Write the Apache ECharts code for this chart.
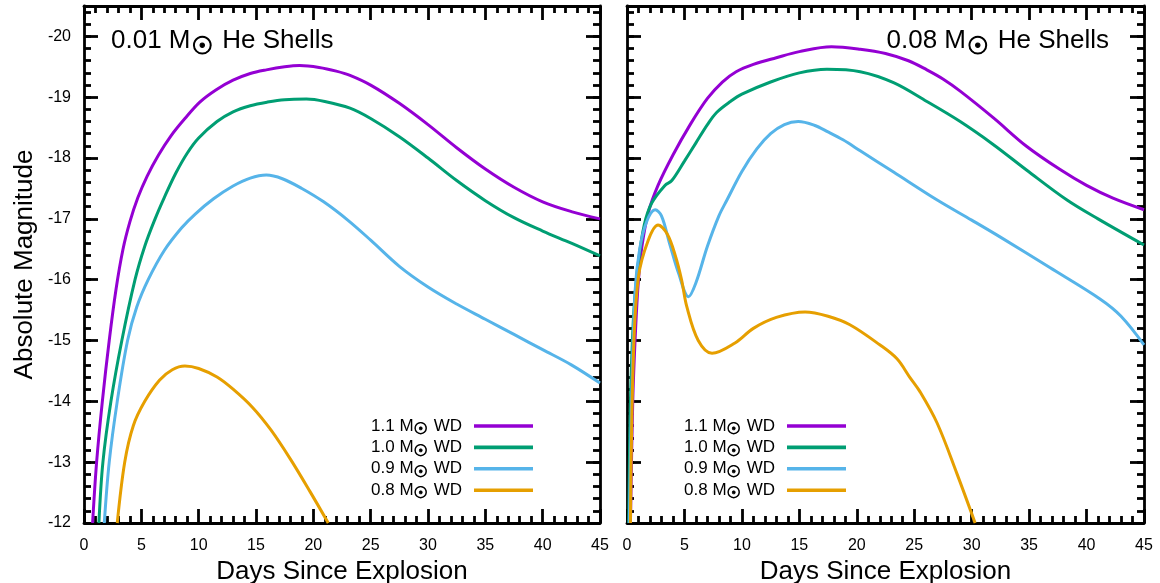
<!DOCTYPE html>
<html>
<head>
<meta charset="utf-8">
<script src="https://cdn.jsdelivr.net/npm/echarts@6/dist/echarts.min.js"></script>
<style>
html,body{margin:0;padding:0;background:#fff;}
#c{width:1160px;height:583px;}
</style>
</head>
<body>
<div id="c"></div>
<script>
// ---------- data: [day, absolute magnitude] ----------
var seriesNames = ['1.1 M\u2609 WD', '1.0 M\u2609 WD', '0.9 M\u2609 WD', '0.8 M\u2609 WD'];
var seriesColors = ['#9400D3', '#009E73', '#56B4E9', '#E69F00'];
var panelTitles = ['0.01 M', '0.08 M'];
var xTickLabels = [0, 5, 10, 15, 20, 25, 30, 35, 40, 45];

// 0.01 Msun He shells
var thin11 = [[0.75,-12],[1.1,-13],[1.6,-14],[2.2,-15],[2.8,-15.85],[3.4,-16.5],[4.0,-16.95],[4.7,-17.35],[5.5,-17.7],[6.5,-18.05],[7.6,-18.37],[8.8,-18.65],[10.1,-18.92],[11.5,-19.12],[13,-19.28],[14.5,-19.39],[15.9,-19.45],[17.5,-19.5],[18.8,-19.52],[20.5,-19.49],[22,-19.43],[23.2,-19.36],[25,-19.2],[27.5,-18.9],[30,-18.55],[32.5,-18.17],[35,-17.82],[37.5,-17.52],[40,-17.28],[42.5,-17.12],[45,-17.0]];
var thin10 = [[1.3,-12],[1.65,-13],[2.35,-14],[3.3,-15],[4.45,-16],[5.3,-16.55],[6.2,-17.0],[7.0,-17.35],[8.0,-17.75],[9.0,-18.08],[10,-18.33],[11.6,-18.6],[13,-18.76],[14.5,-18.86],[16,-18.92],[17.5,-18.96],[19.4,-18.97],[21,-18.93],[23.2,-18.82],[25,-18.65],[27.5,-18.35],[30,-18.0],[32.5,-17.63],[35,-17.3],[37.5,-17.02],[40,-16.8],[42.5,-16.6],[45,-16.39]];
var thin09 = [[1.77,-12],[2.2,-13],[2.9,-14],[3.8,-15],[4.6,-15.55],[5.6,-16],[7,-16.48],[8.5,-16.85],[9.7,-17.08],[11.3,-17.33],[13,-17.54],[14.5,-17.67],[15.9,-17.72],[17.3,-17.66],[19,-17.5],[20.9,-17.28],[23,-16.98],[25,-16.65],[27.5,-16.22],[30,-15.88],[32.5,-15.6],[35,-15.35],[37.5,-15.1],[40,-14.85],[42.5,-14.6],[45,-14.3]];
var thin08 = [[2.9,-12],[3.55,-13],[4.3,-13.6],[5.3,-14.0],[6.6,-14.35],[7.7,-14.52],[8.8,-14.58],[10,-14.54],[11.6,-14.4],[13,-14.2],[14.7,-13.9],[16.3,-13.53],[18,-13.05],[19.7,-12.52],[21.3,-12.0]];

// 0.08 Msun He shells
var thick11 = [[0.3,-12],[0.5,-14],[0.75,-15.2],[1.0,-16.0],[1.3,-16.55],[1.85,-17.1],[2.7,-17.55],[4,-18.05],[5.5,-18.55],[7,-18.98],[8.3,-19.25],[9.5,-19.42],[11,-19.54],[13,-19.65],[15,-19.75],[17.8,-19.83],[20.3,-19.79],[22.5,-19.72],[24.5,-19.6],[26.1,-19.45],[27.5,-19.3],[29,-19.1],[31.9,-18.66],[34.8,-18.19],[37.7,-17.81],[40,-17.55],[42.3,-17.34],[45,-17.15]];
var thick10 = [[0.15,-12],[0.3,-14],[0.6,-15.5],[1.0,-16.3],[1.5,-16.9],[2.15,-17.26],[3.3,-17.55],[3.9,-17.63],[5,-17.95],[6,-18.25],[7,-18.55],[7.8,-18.75],[9,-18.93],[10,-19.05],[12.5,-19.25],[15,-19.4],[17.4,-19.46],[20.3,-19.42],[23.2,-19.24],[26.1,-18.93],[29,-18.6],[31.9,-18.22],[34.8,-17.8],[38.3,-17.31],[41,-17.0],[45,-16.57]];
var thick09 = [[0.2,-12],[0.4,-14],[0.7,-15.8],[1.1,-16.5],[1.7,-16.95],[2.45,-17.15],[3.0,-17.05],[3.7,-16.6],[4.5,-16.1],[5.35,-15.72],[6,-15.95],[7,-16.55],[8,-17.05],[8.7,-17.31],[10,-17.78],[11.3,-18.15],[12.5,-18.4],[13.7,-18.55],[14.9,-18.6],[16.3,-18.54],[17.5,-18.43],[18.8,-18.3],[20.3,-18.12],[23.2,-17.77],[27,-17.31],[30,-16.98],[32.5,-16.7],[36.8,-16.2],[41.2,-15.68],[43,-15.4],[45,-14.93]];
var thick08 = [[0.3,-12],[0.55,-14.7],[1.0,-16.05],[1.85,-16.65],[2.7,-16.9],[3.5,-16.75],[4.2,-16.4],[4.75,-16.0],[5.2,-15.56],[6.2,-15.0],[7.4,-14.79],[9.4,-14.96],[11,-15.2],[13,-15.38],[15.5,-15.47],[17.5,-15.4],[19.4,-15.26],[22,-14.93],[23.5,-14.7],[24.6,-14.4],[25.5,-14.16],[27,-13.64],[28.7,-12.82],[30.3,-12.0]];

var panelData = [[thin11, thin10, thin09, thin08], [thick11, thick10, thick09, thick08]];

// ---------- chart ----------
var FONT = 'Liberation Sans, Arial, Helvetica, sans-serif';
var SUN = 'DejaVu Sans';
var grids = [
  {left: 84, top: 6, width: 516, height: 517, outerBoundsMode: 'none', containLabel: false},
  {left: 627, top: 6, width: 517, height: 517, outerBoundsMode: 'none', containLabel: false}
];
var xAxes = [], yAxes = [], series = [];
var lineW = 2.8;

grids.forEach(function (g, gi) {
  xAxes.push({
    type: 'value', gridIndex: gi, position: 'bottom', min: 0, max: 45, interval: 5,
    name: 'Days Since Explosion', nameLocation: 'middle', nameGap: 33,
    nameTextStyle: {fontFamily: FONT, fontSize: 26, color: '#000'},
    axisLine: {show: true, onZero: false, lineStyle: {color: '#000', width: lineW}},
    axisTick: {show: true, inside: true, length: 14, lineStyle: {color: '#000', width: lineW}},
    minorTick: {show: true, splitNumber: 5, length: 7, lineStyle: {color: '#000', width: lineW}},
    axisLabel: {show: true, margin: 15, fontFamily: FONT, fontSize: 16, color: '#000',
      formatter: function (v) { return xTickLabels.indexOf(v) >= 0 ? String(v) : ''; }},
    splitLine: {show: false}, minorSplitLine: {show: false}
  });
  xAxes.push({
    type: 'value', gridIndex: gi, position: 'top', min: 0, max: 45, interval: 5,
    axisLine: {show: true, onZero: false, lineStyle: {color: '#000', width: lineW}},
    axisTick: {show: true, inside: true, length: 14, lineStyle: {color: '#000', width: lineW}},
    minorTick: {show: true, splitNumber: 5, length: 7, lineStyle: {color: '#000', width: lineW}},
    axisLabel: {show: false}, splitLine: {show: false}
  });
  ['left', 'right'].forEach(function (pos) {
    var major = {
      type: 'value', gridIndex: gi, position: pos, inverse: true, min: -20.5, max: -12, splitNumber: 8,
      axisLine: {show: true, onZero: false, lineStyle: {color: '#000', width: lineW}},
      axisTick: {show: true, inside: true, length: 14, lineStyle: {color: '#000', width: lineW}},
      axisLabel: {show: (gi === 0 && pos === 'left'), margin: 13, fontFamily: FONT, fontSize: 16, color: '#000',
        formatter: function (v) { return Math.abs(v - Math.round(v)) < 1e-6 ? String(Math.round(v)) : ''; }},
      splitLine: {show: false}
    };
    if (gi === 0 && pos === 'left') {
      major.name = 'Absolute Magnitude';
      major.nameLocation = 'middle';
      major.nameGap = 46;
      major.nameTextStyle = {fontFamily: FONT, fontSize: 26, color: '#000'};
    }
    yAxes.push(major);
    yAxes.push({
      type: 'value', gridIndex: gi, position: pos, inverse: true, min: -20.5, max: -12, splitNumber: 42,
      axisLine: {show: false, onZero: false},
      axisTick: {show: true, inside: true, length: 7, lineStyle: {color: '#000', width: lineW}},
      axisLabel: {show: false}, splitLine: {show: false}
    });
  });
  panelData[gi].forEach(function (d, si) {
    series.push({
      type: 'line', name: seriesNames[si], xAxisIndex: gi * 2, yAxisIndex: gi * 4,
      data: d, showSymbol: false, smooth: 0.35, clip: true,
      lineStyle: {color: seriesColors[si], width: 3},
      itemStyle: {color: seriesColors[si]},
      z: 2 + si
    });
  });
});

function legendFor(rightPx) {
  return {
    data: seriesNames, orient: 'vertical', right: rightPx, top: 414, align: 'right', padding: 0,
    icon: 'rect', itemWidth: 59, itemHeight: 3.6, itemGap: -3, selectedMode: false,
    formatter: function (n) { return n.replace('\u2609', '{s|\u2609}'); },
    textStyle: {fontFamily: FONT, fontSize: 17, color: '#000', lineHeight: 20, padding: [0, 7, 0, 0],
      rich: {s: {fontFamily: SUN, fontSize: 16, color: '#000', textBorderColor: '#000', textBorderWidth: 0.8,
        lineHeight: 12, padding: [8, 1, 0, 0]}}}
  };
}

var titleRich = {
  a: {fontFamily: FONT, fontSize: 26, fill: '#000'},
  s: {fontFamily: SUN, fontSize: 24, fill: '#000', stroke: '#000', lineWidth: 1.1, padding: [14, 2, 0, 1]}
};

var option = {
  animation: false,
  backgroundColor: '#fff',
  grid: grids,
  xAxis: xAxes,
  yAxis: yAxes,
  series: series,
  legend: [legendFor(1160 - 533), legendFor(1160 - 846)],
  graphic: [
    {type: 'text', left: 111, top: 28, style: {text: '{a|' + panelTitles[0] + '}{s|\u2609}{a| He Shells}', rich: titleRich}},
    {type: 'text', right: 1160 - 1109, top: 28, style: {text: '{a|' + panelTitles[1] + '}{s|\u2609}{a| He Shells}', rich: titleRich}}
  ]
};

var chart = echarts.init(document.getElementById('c'), null, {renderer: 'canvas'});
chart.setOption(option);
</script>
</body>
</html>
